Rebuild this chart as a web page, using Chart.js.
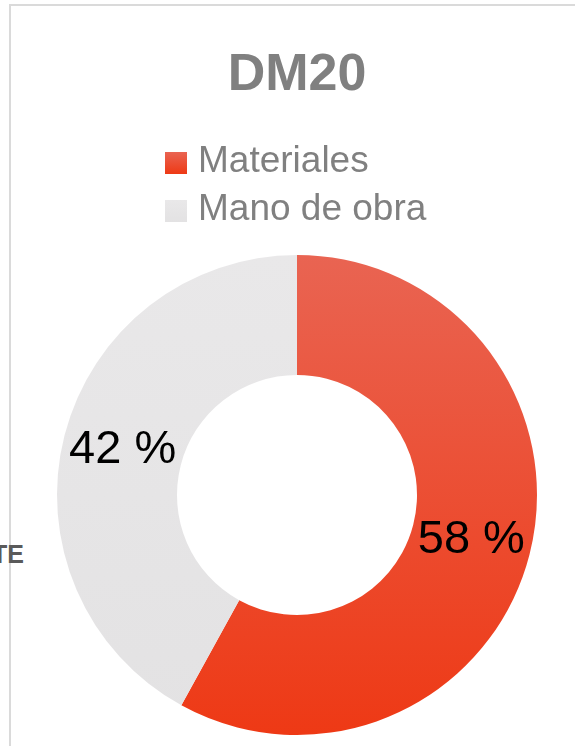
<!DOCTYPE html>
<html>
<head>
<meta charset="utf-8">
<script src="https://cdn.jsdelivr.net/npm/chart.js@4/dist/chart.umd.min.js"></script>
<style>
  html, body { margin: 0; padding: 0; background: #fff; }
  body { width: 575px; height: 746px; position: relative; overflow: hidden; }
  #frame {
    position: absolute; left: 9px; top: 4px; right: -10px; bottom: -10px;
    border-top: 2px solid #dadada; border-left: 2px solid #dadada;
  }
  #side {
    position: absolute; left: -8px; top: 540px;
    font: bold 25px "Liberation Sans", Arial, sans-serif; color: #5a5a5a;
  }
  #wrap { position: absolute; left: 0; top: 0; width: 575px; height: 746px; }
</style>
</head>
<body>
<div id="frame"></div>
<div id="side">TE</div>
<div id="wrap"><canvas id="donutChart"></canvas></div>
<script>
const categories = ['Materiales', 'Mano de obra'];
const shares = [58, 42];
const chartTitle = 'DM20';

Chart.defaults.font.family = '"Liberation Sans", Arial, sans-serif';

// vertical gradient fills, like the spreadsheet export
function sliceFill(context) {
    const chart = context.chart;
    const area = chart.chartArea;
    if (!area) return '#ee4a2c';
    const g = chart.ctx.createLinearGradient(0, area.top, 0, area.bottom);
    if (context.dataIndex === 0) {
        g.addColorStop(0, '#e96452');
        g.addColorStop(1, '#ee3915');
    } else {
        g.addColorStop(0, '#e9e8e9');
        g.addColorStop(1, '#e3e2e3');
    }
    return g;
}
const swatchColors = [['#e96452', '#ee3915'], ['#e9e8e9', '#e3e2e3']];

// legend stacked one item per row, left aligned
const stackedLegend = {
    id: 'stackedLegend',
    afterDraw(chart) {
        const ctx = chart.ctx;
        ctx.save();
        ctx.font = '37px "Liberation Sans", Arial, sans-serif';
        ctx.textBaseline = 'alphabetic';
        ctx.textAlign = 'left';
        chart.data.labels.forEach((label, i) => {
            const y = 152 + i * 48;
            const g = ctx.createLinearGradient(0, y, 0, y + 22);
            g.addColorStop(0, swatchColors[i][0]);
            g.addColorStop(1, swatchColors[i][1]);
            ctx.fillStyle = g;
            ctx.fillRect(165, y, 22, 22);
            ctx.fillStyle = '#808080';
            ctx.fillText(label, 198, y + 20);
        });
        ctx.restore();
    }
};

// percentage labels in the middle of each ring segment
const sliceLabels = {
    id: 'sliceLabels',
    afterDatasetsDraw(chart) {
        const ctx = chart.ctx;
        const meta = chart.getDatasetMeta(0);
        ctx.save();
        ctx.font = '47px "Liberation Sans", Arial, sans-serif';
        ctx.fillStyle = '#000';
        ctx.textAlign = 'center';
        ctx.textBaseline = 'middle';
        meta.data.forEach((arc, i) => {
            const p = arc.getCenterPoint();
            ctx.fillText(chart.data.datasets[0].data[i] + ' %', p.x, p.y);
        });
        ctx.restore();
    }
};

new Chart(document.getElementById('donutChart'), {
    type: 'doughnut',
    data: {
        labels: categories,
        datasets: [{
            data: shares,
            backgroundColor: sliceFill,
            borderWidth: 0,
            hoverOffset: 0
        }]
    },
    options: {
        responsive: true,
        maintainAspectRatio: false,
        animation: false,
        cutout: '50%',
        layout: {
            padding: { left: 57, right: 38, top: 0, bottom: 11 }
        },
        plugins: {
            title: {
                display: true,
                text: chartTitle,
                color: '#808080',
                font: { size: 52, weight: 'bold', lineHeight: 1.2 },
                padding: { top: 44, bottom: 148.6 }
            },
            legend: { display: false },
            tooltip: { enabled: false }
        }
    },
    plugins: [stackedLegend, sliceLabels]
});
</script>
</body>
</html>
